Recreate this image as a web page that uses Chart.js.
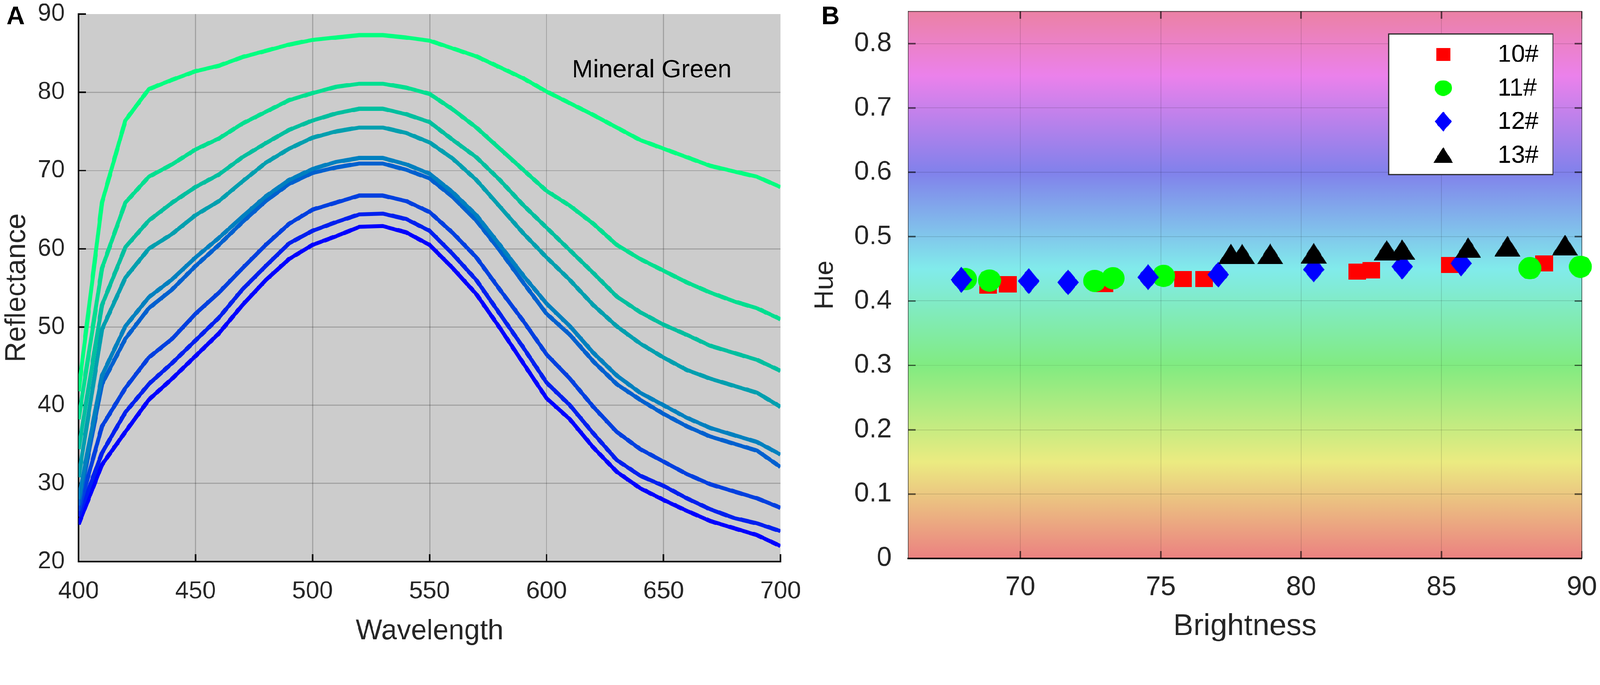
<!DOCTYPE html>
<html>
<head>
<meta charset="utf-8">
<script src="https://cdn.jsdelivr.net/npm/chart.js"></script>
<style>
  html, body { margin: 0; padding: 0; background: #fff; overflow: hidden; }
  #wrap { position: relative; width: 4317px; height: 1754px; transform-origin: 0 0; }
  canvas { position: absolute; top: 0; }
  #chartA { left: 0; }
  #chartB { left: 2160px; }
</style>
</head>
<body>
<div id="wrap">
  <canvas id="chartA" width="2160" height="1754"></canvas>
  <canvas id="chartB" width="2157" height="1754"></canvas>
</div>
<script>
// ---- Panel A: reflectance spectra ----
const wavelengths = [400, 410, 420, 430, 440, 450, 460, 470, 480, 490, 500, 510, 520, 530, 540, 550,
                     560, 570, 580, 590, 600, 610, 620, 630, 640, 650, 660, 670, 680, 690, 700];
const curve1 = [41.8, 65.9, 76.4, 80.4, 81.6, 82.7, 83.4, 84.5, 85.3, 86.1, 86.7, 87.0, 87.3, 87.3, 87.0, 86.6,
                85.6, 84.6, 83.2, 81.8, 80.1, 78.6, 77.1, 75.5, 73.9, 72.8, 71.7, 70.6, 69.9, 69.2, 67.9];
const curve2 = [38.2, 57.5, 65.9, 69.2, 70.8, 72.7, 74.1, 76.0, 77.5, 79.0, 79.9, 80.7, 81.1, 81.1, 80.6, 79.8,
                77.8, 75.5, 72.8, 70.1, 67.4, 65.5, 63.2, 60.5, 58.7, 57.2, 55.7, 54.4, 53.3, 52.4, 51.0];
const curve3 = [34.4, 52.8, 60.2, 63.6, 65.9, 67.9, 69.5, 71.7, 73.5, 75.2, 76.4, 77.3, 77.9, 77.9, 77.2, 76.2,
                73.9, 71.7, 68.8, 65.6, 62.7, 59.8, 56.9, 53.9, 51.9, 50.3, 49.0, 47.6, 46.7, 45.8, 44.4];
const curve4 = [30.8, 49.7, 56.3, 60.0, 61.9, 64.3, 66.1, 68.6, 71.0, 72.8, 74.2, 75.0, 75.5, 75.5, 74.8, 73.6,
                71.5, 68.8, 65.4, 62.0, 58.9, 56.0, 52.8, 50.1, 47.9, 46.1, 44.5, 43.4, 42.5, 41.6, 39.8];
const curve5 = [28.0, 43.8, 50.1, 53.8, 56.1, 58.9, 61.4, 64.1, 66.7, 68.8, 70.2, 71.1, 71.6, 71.6, 70.8, 69.6,
                67.2, 64.3, 60.5, 56.6, 53.0, 50.1, 46.7, 43.8, 41.6, 40.0, 38.4, 37.1, 36.2, 35.3, 33.7];
const curve6 = [27.2, 42.7, 48.5, 52.4, 54.8, 57.8, 60.5, 63.4, 66.1, 68.3, 69.7, 70.4, 70.9, 70.9, 70.1, 69.0,
                66.6, 63.6, 59.8, 55.7, 51.7, 49.0, 45.6, 42.7, 40.7, 38.9, 37.3, 36.0, 35.1, 34.2, 32.1];
const curve7 = [26.5, 37.3, 42.2, 46.1, 48.5, 51.7, 54.4, 57.5, 60.5, 63.2, 65.0, 65.9, 66.8, 66.8, 66.1, 64.7,
                62.0, 58.9, 54.8, 50.8, 46.5, 43.4, 39.8, 36.6, 34.4, 32.8, 31.2, 29.9, 29.0, 28.1, 26.9];
const curve8 = [25.8, 33.9, 39.1, 42.7, 45.4, 48.3, 51.2, 54.8, 57.8, 60.7, 62.3, 63.4, 64.4, 64.5, 63.8, 62.3,
                59.3, 56.0, 51.7, 47.4, 42.9, 40.0, 36.4, 33.0, 31.0, 29.7, 28.1, 26.7, 25.6, 24.9, 23.9];
const curve9 = [24.8, 32.4, 36.6, 40.7, 43.4, 46.3, 49.2, 52.8, 56.0, 58.7, 60.5, 61.6, 62.8, 62.9, 62.1, 60.5,
                57.5, 54.2, 49.9, 45.4, 40.9, 38.2, 34.6, 31.5, 29.4, 27.9, 26.5, 25.2, 24.3, 23.4, 22.0];
const curvesA = [curve1, curve2, curve3, curve4, curve5, curve6, curve7, curve8, curve9];
// couleurs type "winter" (vert -> bleu)
const curveColors = ['#00ff80', '#00df90', '#00bf9f', '#009faf', '#0080bf', '#0060cf', '#0040df', '#0020ef', '#0000ff'];
const xTicksA = [400, 450, 500, 550, 600, 650, 700];
const yTicksA = [20, 30, 40, 50, 60, 70, 80, 90];

// ---- Panel B: hue vs brightness ----
const brightness10 = [68.85, 69.55, 73.0, 75.8, 76.55, 82.0, 82.5, 85.3, 88.65];
const hue10        = [0.424, 0.426, 0.427, 0.434, 0.434, 0.4455, 0.448, 0.456, 0.4585];
const brightness11 = [68.05, 68.9, 72.65, 73.3, 75.1, 88.15, 89.95];
const hue11        = [0.434, 0.432, 0.4315, 0.4355, 0.439, 0.451, 0.4535];
const brightness12 = [67.9, 70.3, 71.7, 74.55, 77.05, 80.45, 83.6, 85.7];
const hue12        = [0.433, 0.431, 0.429, 0.437, 0.441, 0.449, 0.4535, 0.4585];
const brightness13 = [77.5, 77.9, 78.9, 80.45, 83.05, 83.6, 85.95, 87.35, 89.4];
const hue13        = [0.473, 0.473, 0.4734, 0.4745, 0.479, 0.480, 0.483, 0.4853, 0.487];
const labelsB = ['10#', '11#', '12#', '13#'];
const xTicksB = [70, 75, 80, 85, 90];
const yTicksB = [0, 0.1, 0.2, 0.3, 0.4, 0.5, 0.6, 0.7, 0.8];
// fond arc-en-ciel (teinte)
const hueStops  = [0, 0.15, 0.3, 0.45, 0.6, 0.75, 0.9];
const hueColors = ['#eb8181', '#ebeb81', '#81eb81', '#81ebeb', '#8181eb', '#eb81eb', '#eb8181'];

// la fenêtre peut avoir un zoom : on ramène la page à 4317 px de large
const wrap = document.getElementById('wrap');
const pageScale = window.innerWidth / 4317;
if (Math.abs(pageScale - 1) > 0.001) {
    wrap.style.transform = 'scale(' + pageScale + ')';
}

const FONT = "'Liberation Sans', Arial, Helvetica, sans-serif";
Chart.defaults.font.family = FONT;
Chart.defaults.color = '#262626';
Chart.defaults.animation = false;

// Marqueurs dessinés sur un petit canvas
function makeMarker(shape, color, w, h) {
    const c = document.createElement('canvas');
    c.width = w;
    c.height = h;
    const g = c.getContext('2d');
    g.fillStyle = color;
    g.beginPath();
    if (shape === 'square') {
        g.rect(0, 0, w, h);
    } else if (shape === 'circle') {
        g.ellipse(w / 2, h / 2, w / 2, h / 2, 0, 0, Math.PI * 2);
    } else if (shape === 'diamond') {
        g.moveTo(w / 2, 0); g.lineTo(w, h / 2); g.lineTo(w / 2, h); g.lineTo(0, h / 2); g.closePath();
    } else {
        g.moveTo(w / 2, 0); g.lineTo(w, h); g.lineTo(0, h); g.closePath();
    }
    g.fill();
    return c;
}

// Petites graduations vers l'intérieur
function drawInnerTicks(chart, sides, len, color, width) {
    const {ctx, chartArea: a, scales: {x, y}} = chart;
    ctx.save();
    ctx.strokeStyle = color;
    ctx.lineWidth = width;
    ctx.beginPath();
    x.ticks.forEach(t => {
        const px = x.getPixelForValue(t.value);
        if (sides.includes('bottom')) { ctx.moveTo(px, a.bottom); ctx.lineTo(px, a.bottom - len); }
        if (sides.includes('top')) { ctx.moveTo(px, a.top); ctx.lineTo(px, a.top + len); }
    });
    y.ticks.forEach(t => {
        const py = y.getPixelForValue(t.value);
        if (sides.includes('left')) { ctx.moveTo(a.left, py); ctx.lineTo(a.left + len, py); }
        if (sides.includes('right')) { ctx.moveTo(a.right, py); ctx.lineTo(a.right - len, py); }
    });
    ctx.stroke();
    ctx.restore();
}

function panelLetter(ctx, letter, x, y) {
    ctx.save();
    ctx.font = 'bold 68px ' + FONT;
    ctx.fillStyle = '#000';
    ctx.textAlign = 'center';
    ctx.textBaseline = 'middle';
    ctx.fillText(letter, x, y);
    ctx.restore();
}

// ---------- Chart A ----------
const decorA = {
    id: 'decorA',
    beforeDraw(chart) {
        const {ctx, chartArea: a} = chart;
        ctx.save();
        ctx.fillStyle = '#cccccc';
        ctx.fillRect(a.left, a.top, a.right - a.left, a.bottom - a.top);
        ctx.restore();
    },
    beforeDatasetsDraw(chart) {
        drawInnerTicks(chart, ['bottom', 'left'], 20, '#000', 4);
    },
    afterDraw(chart) {
        const {ctx, scales: {x, y}} = chart;
        ctx.save();
        ctx.font = '68px ' + FONT;
        ctx.fillStyle = '#000';
        ctx.textAlign = 'center';
        ctx.textBaseline = 'middle';
        ctx.fillText('Mineral Green', x.getPixelForValue(645), y.getPixelForValue(82.8));
        ctx.restore();
        panelLetter(ctx, 'A', 42, 46);
    }
};

new Chart(document.getElementById('chartA'), {
    type: 'line',
    data: {
        datasets: curvesA.map((vals, i) => ({
            data: wavelengths.map((w, j) => ({x: w, y: vals[j]})),
            borderColor: curveColors[i],
            borderWidth: 11,
            borderJoinStyle: 'round',
            pointRadius: 0,
            tension: 0,
            fill: false
        }))
    },
    options: {
        responsive: false,
        devicePixelRatio: 1,
        layout: { padding: { left: 0, top: 38, right: 54, bottom: 0 } },
        plugins: { legend: { display: false }, tooltip: { enabled: false } },
        scales: {
            x: {
                type: 'linear',
                min: 400,
                max: 700,
                afterBuildTicks: s => { s.ticks = xTicksA.map(v => ({value: v})); },
                afterFit: s => { s.height = 238; s.paddingLeft = 0; s.paddingRight = 0; },
                grid: {
                    drawTicks: false,
                    lineWidth: 3,
                    color: c => (c.tick && c.tick.value === 700) ? 'rgba(0,0,0,0)' : 'rgba(0,0,0,0.2)'
                },
                border: { display: true, color: '#000', width: 4 },
                ticks: { font: { size: 66 }, color: '#262626', padding: 41, maxRotation: 0 },
                title: { display: true, text: 'Wavelength', font: { size: 76 }, color: '#262626',
                         padding: { top: 0, bottom: 4 } }
            },
            y: {
                min: 20,
                max: 90,
                afterBuildTicks: s => { s.ticks = yTicksA.map(v => ({value: v})); },
                afterFit: s => { s.width = 212; s.paddingTop = 0; s.paddingBottom = 0; },
                grid: {
                    drawTicks: false,
                    lineWidth: 3,
                    color: c => (c.tick && c.tick.value === 90) ? 'rgba(0,0,0,0)' : 'rgba(0,0,0,0.2)'
                },
                border: { display: true, color: '#000', width: 4 },
                ticks: { font: { size: 66 }, color: '#262626', padding: 37 },
                title: { display: true, text: 'Reflectance', font: { size: 76 }, color: '#262626',
                         padding: { top: 0, bottom: 0 } }
            }
        }
    },
    plugins: [decorA]
});

// ---------- Chart B ----------
const seriesB = [
    { xs: brightness10, ys: hue10, color: '#ff0000', shape: 'square',   size: [48, 44], leg: [38, 34] },
    { xs: brightness11, ys: hue11, color: '#00ff00', shape: 'circle',   size: [62, 60], leg: [47, 42] },
    { xs: brightness12, ys: hue12, color: '#0000ff', shape: 'diamond',  size: [58, 70], leg: [46, 54] },
    { xs: brightness13, ys: hue13, color: '#000000', shape: 'triangle', size: [70, 55], leg: [54, 43] }
];

const decorB = {
    id: 'decorB',
    beforeDraw(chart) {
        const {ctx, chartArea: a, scales: {y}} = chart;
        const y0 = y.getPixelForValue(0);
        const y1 = y.getPixelForValue(0.9);
        const grad = ctx.createLinearGradient(0, y0, 0, y1);
        hueStops.forEach((s, i) => grad.addColorStop(s / 0.9, hueColors[i]));
        ctx.save();
        ctx.fillStyle = grad;
        ctx.fillRect(a.left, a.top, a.right - a.left, a.bottom - a.top);
        ctx.restore();
    },
    beforeDatasetsDraw(chart) {
        const {ctx, chartArea: a} = chart;
        ctx.save();
        ctx.strokeStyle = 'rgba(0,0,0,0.55)';
        ctx.lineWidth = 3;
        ctx.beginPath();
        ctx.moveTo(a.left, a.top); ctx.lineTo(a.right, a.top); ctx.lineTo(a.right, a.bottom);
        ctx.stroke();
        ctx.restore();
        drawInnerTicks(chart, ['bottom', 'left', 'top', 'right'], 20, 'rgba(0,0,0,0.6)', 4);
    },
    afterDraw(chart) {
        const {ctx, chartArea: a} = chart;
        const left = a.right - 521, top = a.top + 61, w = 443, h = 379;
        ctx.save();
        ctx.fillStyle = '#ffffff';
        ctx.fillRect(left, top, w, h);
        ctx.strokeStyle = '#262626';
        ctx.lineWidth = 3;
        ctx.strokeRect(left, top, w, h);
        ctx.font = '66px ' + FONT;
        ctx.fillStyle = '#000';
        ctx.textAlign = 'left';
        ctx.textBaseline = 'middle';
        chart.data.datasets.forEach((ds, i) => {
            const cy = top + 55 + i * 90.5;
            const img = ds.legendMarker;
            ctx.drawImage(img, left + 147 - img.width / 2, cy - img.height / 2);
            ctx.fillText(ds.label, left + 294, cy + 2);
        });
        ctx.restore();
        panelLetter(ctx, 'B', 81, 46);
    }
};

new Chart(document.getElementById('chartB'), {
    type: 'scatter',
    data: {
        datasets: seriesB.map((s, i) => ({
            label: labelsB[i],
            data: s.xs.map((v, j) => ({x: v, y: s.ys[j]})),
            pointStyle: makeMarker(s.shape, s.color, s.size[0], s.size[1]),
            legendMarker: makeMarker(s.shape, s.color, s.leg[0], s.leg[1]),
            pointRadius: 30,
            backgroundColor: s.color,
            borderColor: s.color,
            order: 4 - i,
            clip: false
        }))
    },
    options: {
        responsive: false,
        devicePixelRatio: 1,
        layout: { padding: { left: 0, top: 6, right: 49, bottom: 0 } },
        plugins: { legend: { display: false }, tooltip: { enabled: false } },
        scales: {
            x: {
                type: 'linear',
                min: 66,
                max: 90,
                afterBuildTicks: s => { s.ticks = xTicksB.map(v => ({value: v})); },
                afterFit: s => { s.height = 247; s.paddingLeft = 0; s.paddingRight = 0; },
                grid: { drawTicks: false, lineWidth: 2, color: 'rgba(0,0,0,0.13)' },
                border: { display: true, color: '#000', width: 4 },
                ticks: { font: { size: 73 }, color: '#262626', padding: 35, maxRotation: 0,
                         callback: v => String(v) },
                title: { display: true, text: 'Brightness', font: { size: 82 }, color: '#262626',
                         padding: { top: 0, bottom: 13 } }
            },
            y: {
                min: 0,
                max: 0.85,
                afterBuildTicks: s => { s.ticks = yTicksB.map(v => ({value: v})); },
                afterFit: s => { s.width = 290; s.paddingTop = 0; s.paddingBottom = 0; },
                grid: { drawTicks: false, lineWidth: 2, color: 'rgba(0,0,0,0.13)' },
                border: { display: true, color: 'rgba(0,0,0,0.55)', width: 3 },
                ticks: { font: { size: 73 }, color: '#262626', padding: 44,
                         callback: v => String(v) },
                title: { display: true, text: 'Hue', font: { size: 72 }, color: '#262626',
                         padding: { top: 24, bottom: 0 } }
            }
        }
    },
    plugins: [decorB]
});
</script>
</body>
</html>
